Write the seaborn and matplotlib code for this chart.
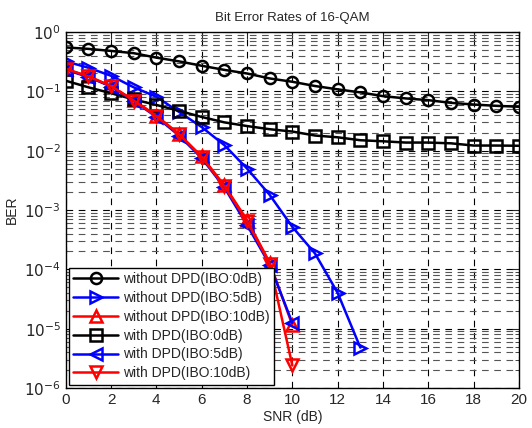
import numpy as np
import pandas as pd
import matplotlib
matplotlib.use("Agg")
import matplotlib.pyplot as plt
from matplotlib.ticker import FixedLocator, NullFormatter
import seaborn as sns

snr_full = list(range(0, 21))
snr_13 = list(range(0, 14))
snr_10 = list(range(0, 11))

ber_wo_0 = [0.55, 0.52, 0.48, 0.44, 0.37, 0.32, 0.27, 0.23, 0.20, 0.165, 0.145,
            0.123, 0.108, 0.096, 0.083, 0.076, 0.071, 0.064, 0.060, 0.057, 0.055]
ber_wo_5 = [0.32, 0.25, 0.183, 0.117, 0.081, 0.045, 0.025, 0.0124, 0.0050,
            0.0018, 5.2e-4, 1.85e-4, 4.0e-5, 4.8e-6]
ber_wo_10 = [0.235, 0.18, 0.122, 0.071, 0.039, 0.019, 0.0080, 0.0026, 6.8e-4,
             1.3e-4, 1.15e-5]
ber_w_0 = [0.151, 0.117, 0.093, 0.073, 0.059, 0.047, 0.037, 0.030, 0.026, 0.023,
           0.021, 0.018, 0.0168, 0.015, 0.0144, 0.0137, 0.0137, 0.0133, 0.0122,
           0.0122, 0.0121]
ber_w_5 = [0.23, 0.175, 0.12, 0.069, 0.037, 0.018, 0.0075, 0.0024, 5.6e-4,
           1.2e-4, 1.25e-5]
ber_w_10 = [0.24, 0.178, 0.123, 0.070, 0.038, 0.019, 0.0078, 0.0025, 6.5e-4,
            1.25e-4, 2.4e-6]

labels = ["without DPD(IBO:0dB)", "without DPD(IBO:5dB)", "without DPD(IBO:10dB)",
          "with DPD(IBO:0dB)", "with DPD(IBO:5dB)", "with DPD(IBO:10dB)"]
xs = [snr_full, snr_13, snr_10, snr_full, snr_10, snr_10]
ys = [ber_wo_0, ber_wo_5, ber_wo_10, ber_w_0, ber_w_5, ber_w_10]
colors = ["black", "blue", "red", "black", "blue", "red"]
markers = ["o", ">", "^", "s", "<", "v"]

sns.set_style("white")
plt.rcParams["font.family"] = ["Liberation Sans", "DejaVu Sans"]

fig = plt.figure(figsize=(5.32, 4.28), dpi=100)
ax = fig.add_axes([0.1235, 0.0935, 0.852, 0.8317])

for x, y, lab, c, m in zip(xs, ys, labels, colors, markers):
    df = pd.DataFrame({"SNR": x, "BER": y})
    sns.lineplot(data=df, x="SNR", y="BER", ax=ax, color=c, marker=m,
                 markersize=8, markerfacecolor="none", markeredgecolor=c,
                 markeredgewidth=1.8, linewidth=1.8, label=lab)

ax.set_yscale("log")
ax.set_xlim(0, 20)
ax.set_ylim(1e-6, 1)
ax.set_xticks(range(0, 21, 2))
decades = [10.0 ** k for k in range(-6, 1)]
ax.yaxis.set_major_locator(FixedLocator(decades))
ax.set_yticklabels([r"$10^{%d}$" % k for k in range(-6, 1)])
minors = [m * 10.0 ** k for k in range(-6, 0) for m in range(2, 10)]
ax.yaxis.set_minor_locator(FixedLocator(minors))
ax.yaxis.set_minor_formatter(NullFormatter())

ax.grid(True, which="major", axis="both", color="black", linestyle=(0, (6, 5)), linewidth=0.8)
ax.grid(True, which="minor", axis="y", color="#555555", linestyle=(0, (6, 5)), linewidth=0.8)
ax.set_axisbelow(True)

ax.tick_params(which="both", direction="in", top=True, right=True, labelsize=11)
ax.tick_params(which="major", length=5)
ax.tick_params(which="minor", length=3)
for s in ax.spines.values():
    s.set_color("black")
    s.set_linewidth(1.0)

ax.set_xlabel("SNR (dB)", fontsize=10, labelpad=2)
ax.set_ylabel("BER", fontsize=10)
ax.set_title("Bit Error Rates of 16-QAM", fontsize=9.5, pad=8)

leg = ax.legend(loc="lower left", fontsize=10, handlelength=3.2, borderaxespad=0.25,
                fancybox=False, framealpha=1, edgecolor="black", labelspacing=0.35,
                borderpad=0.3, handletextpad=0.4)
leg.get_frame().set_linewidth(1.0)

fig.savefig("out.png", dpi=100)
